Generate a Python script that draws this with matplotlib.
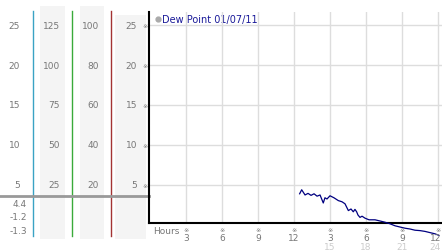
import matplotlib.pyplot as plt
import matplotlib.transforms as mtransforms

# dew point readings (hours since midnight, value)
hours = [12.47, 12.64, 12.92, 13.17, 13.42, 13.67, 13.92, 14.17, 14.44, 14.58,
         14.75, 15.0, 15.33, 15.69, 16.0, 16.25, 16.53, 16.75, 16.94, 17.08,
         17.22, 17.33, 17.5, 17.67, 17.92, 18.25, 18.75, 19.17, 19.58, 20.0,
         20.42, 20.83, 21.25, 21.67, 22.08, 22.5, 22.92, 23.33, 23.75, 24.08]
dew = [3.9, 4.4, 3.75, 3.95, 3.7, 3.9, 3.6, 3.75, 2.75, 3.4,
       3.25, 3.65, 3.4, 3.05, 2.9, 2.65, 1.8, 2.0, 1.65, 1.95,
       1.65, 1.25, 0.95, 1.1, 0.85, 0.65, 0.65, 0.5, 0.35, 0.15,
       -0.1, -0.25, -0.4, -0.5, -0.65, -0.7, -0.8, -0.95, -1.1, -1.3]

main_ticks = [5, 10, 15, 20, 25]
col1 = ['5', '10', '15', '20', '25']
col2 = ['25', '50', '75', '100', '125']
col3 = ['20', '40', '60', '80', '100']
current = ['4.4', '-1.2', '-1.3']
hour_ticks = [3, 6, 9, 12, 15, 18, 21, 24]
hour_labels = ['3', '6', '9', '12', '3', '6', '9', '12']
hour_labels24 = {15: '15', 18: '18', 21: '21', 24: '24'}

W, H = 442, 253
fig = plt.figure(figsize=(W / 100, H / 100), dpi=100)
fig.patch.set_facecolor('white')

# background panel in pixel coords
bg = fig.add_axes([0, 0, 1, 1])
bg.set_xlim(0, W)
bg.set_ylim(H, 0)
bg.axis('off')

grey = '#777777'
for x0, x1, y0 in [(40, 65, 7), (80, 104, 7), (115, 146, 16)]:
    bg.add_patch(plt.Rectangle((x0, y0), x1 - x0, 240 - y0, color='#f4f4f4', lw=0))
for x, c in [(33, '#3aa3c4'), (72, '#3aaa3a'), (111, '#a33333')]:
    bg.plot([x, x], [12, 237], color=c, lw=1)
bg.plot([0, 149], [197, 197], color='#999999', lw=2)

def ypix(v):
    return 226 - 8 * v

for i, v in enumerate(main_ticks):
    y = ypix(v)
    bg.text(20, y, col1[i], ha='right', va='center', fontsize=6.5, color=grey)
    bg.text(60, y, col2[i], ha='right', va='center', fontsize=6.5, color=grey)
    bg.text(99, y, col3[i], ha='right', va='center', fontsize=6.5, color=grey)
    bg.text(137, y, str(v), ha='right', va='center', fontsize=6.5, color=grey)
    bg.text(145, y, '※', ha='center', va='center', fontsize=4.5, color=grey)

for y, t in zip([205, 218, 232], current):
    bg.text(27, y, t, ha='right', va='center', fontsize=6.5, color=grey)

# main chart
ax = fig.add_axes([149 / W, (H - 224) / H, (W - 149) / W, (224 - 13) / H])
ax.set_xlim(-1 / 12, 293 / 12 - 1 / 12)
ax.set_ylim(0.25, 26.6)
ax.set_facecolor('none')
for s in ['top', 'right']:
    ax.spines[s].set_visible(False)
ax.spines['left'].set_linewidth(1.5)
ax.spines['bottom'].set_linewidth(1.5)
ax.set_xticks(hour_ticks)
ax.set_yticks(main_ticks)
ax.set_xticklabels([])
ax.set_yticklabels([])
ax.tick_params(length=0)
ax.grid(True, color='#dddddd', lw=1)
ax.set_axisbelow(True)

ax.plot(hours, dew, color='#000080', lw=0.9, clip_on=False, zorder=3)

trans = mtransforms.blended_transform_factory(ax.transData, fig.transFigure)
for h, lab in zip(hour_ticks, hour_labels):
    # last label sits against the right edge
    hx, ha = (h + 0.25, 'right') if h == hour_ticks[-1] else (h, 'center')
    ax.text(h, 1 - 231 / H, '※', transform=trans, ha='center', va='center',
            fontsize=4.5, color=grey)
    ax.text(hx, 1 - 238.5 / H, lab, transform=trans, ha=ha, va='center',
            fontsize=6.5, color=grey)
    if h in hour_labels24:
        ax.text(hx, 1 - 247.5 / H, hour_labels24[h], transform=trans, ha=ha,
                va='center', fontsize=6.5, color='#cccccc')

bg.text(153, 232, 'Hours', ha='left', va='center', fontsize=6.5, color=grey)

# legend
bg.plot([158], [20], 'o', ms=3.5, color='#aaaaaa')
bg.text(162, 20, 'Dew Point 01/07/11', ha='left', va='center', fontsize=7,
        color='#1a1a99')

fig.savefig('out.png', dpi=100)
